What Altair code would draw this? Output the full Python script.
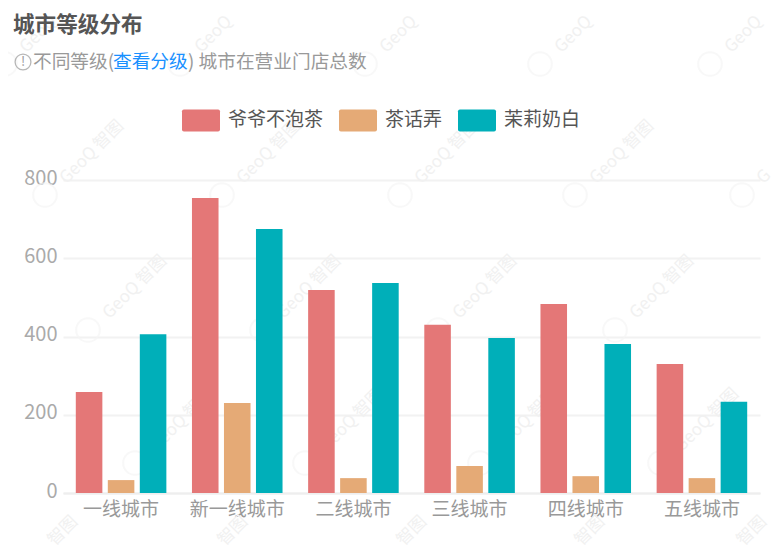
import altair as alt
import pandas as pd

FONT = "Noto Sans CJK SC"
cities = ["一线城市", "新一线城市", "二线城市", "三线城市", "四线城市", "五线城市"]
series = ["爷爷不泡茶", "茶话弄", "茉莉奶白"]
colors = ["#e47777", "#e5aa76", "#00afb9"]
yeye = [258, 754, 519, 430, 483, 330]
chahua = [33, 230, 38, 69, 43, 38]
moli = [406, 675, 537, 396, 381, 233]
yticks = [0, 200, 400, 600, 800]
# faint background stamp: page position of the ring and the part of the text that is visible
stamp_rows = [
    (64, "GeoQ", [5, 180, 365, 540, 710]),
    (195, "GeoQ 智图", [45, 222, 400, 575]),
    (330, "GeoQ 智图", [88, 262, 438, 615]),
    (463, "GeoQ 智图", [135, 305, 480, 660]),
]
stamp_edge = [(742, 195, "G")]
stamp_bottom_y = 531
stamp_bottom_x = [63, 233, 412, 590, 752]

rows = []
for name, vals in zip(series, [yeye, chahua, moli]):
    for c, v in zip(cities, vals):
        rows.append({"city": c, "brand": name, "value": v})
df = pd.DataFrame(rows)

bars = alt.Chart(df).mark_bar(stroke=None).encode(
    x=alt.X("city:N", sort=cities, title=None,
            scale=alt.Scale(paddingInner=0, paddingOuter=0),
            axis=alt.Axis(labelAngle=0, labelFont=FONT, labelFontSize=19, labelColor="#999999",
                          labelPadding=7, tickSize=0, domainColor="#eeeeee", domainWidth=2, grid=False)),
    xOffset=alt.XOffset("brand:N", sort=series,
                        scale=alt.Scale(paddingInner=0.17, paddingOuter=0.40)),
    y=alt.Y("value:Q", title=None, scale=alt.Scale(domain=[0, 800]),
            axis=alt.Axis(values=yticks, labelFont=FONT, labelFontSize=20, labelColor="#aaaaaa",
                          labelPadding=6, labelOffset=-2, tickSize=0, domain=False, grid=True,
                          gridColor="#f2f2f2", gridWidth=2)),
    color=alt.Color("brand:N", sort=series, title=None,
                    scale=alt.Scale(domain=series, range=colors),
                    legend=alt.Legend(orient="none", legendX=119, legendY=-79, direction="horizontal",
                                      columns=3, columnPadding=15, labelOffset=8,
                                      labelFont=FONT, labelFontSize=19, labelColor="#555555",
                                      symbolSize=1444, symbolStrokeWidth=0,
                                      symbolType="M-0.9,-0.58 H0.9 Q1,-0.58 1,-0.48 V0.48 Q1,0.58 0.9,0.58 H-0.9 Q-1,0.58 -1,0.48 V-0.48 Q-1,-0.58 -0.9,-0.58 Z")),
)

one = pd.DataFrame({"k": [0]})

def label(text, x, y, color, size, weight="normal"):
    return alt.Chart(one).mark_text(text=text, align="left", baseline="middle", font=FONT,
                                    fontSize=size, color=color, fontWeight=weight).encode(
        x=alt.value(x), y=alt.value(y))

def stamp_text(text, px, py):
    return alt.Chart(one).mark_text(text=text, align="left", baseline="middle", angle=315,
                                    font=FONT, fontSize=17, color="#f1f1f1").encode(
        x=alt.value(px), y=alt.value(py))

def stamp(page_x, page_y, text):
    px, py = page_x - 63, page_y - 180
    ring = alt.Chart(one).mark_point(shape="circle", size=560, filled=False,
                                     color="#f6f6f6", strokeWidth=2).encode(
        x=alt.value(px), y=alt.value(py))
    return [ring, stamp_text(text, px + 18, py - 14)]

stamps = []
for page_y, text, xs in stamp_rows:
    for page_x in xs:
        stamps += stamp(page_x, page_y, text)
for page_x, page_y, text in stamp_edge:
    stamps += stamp(page_x, page_y, text)
for page_x in stamp_bottom_x:
    stamps.append(stamp_text("智图", page_x - 63 - 12, stamp_bottom_y - 180 + 12))

title = label("城市等级分布", -50, -154, "#555555", 21.6, "bold")
sub1 = label("不同等级(", -30, -118, "#999999", 18.7)
sub2 = label("查看分级", 50, -118, "#1890ff", 18.7)
sub3 = label(") 城市在营业门店总数", 125, -118, "#999999", 18.7)
icon = alt.Chart(one).mark_point(shape="circle", size=250, filled=False, color="#999999", strokeWidth=1.3).encode(
    x=alt.value(-40), y=alt.value(-118))
bang = alt.Chart(one).mark_text(text="!", align="center", baseline="middle", font=FONT,
                                fontSize=13, color="#999999").encode(x=alt.value(-40), y=alt.value(-118))

chart = alt.layer(*stamps, bars, title, icon, bang, sub1, sub2, sub3).properties(
    width=697, height=313,
    autosize=alt.AutoSizeParams(type="none"),
    padding={"left": 55, "top": 172, "right": 14, "bottom": 60},
    background="white",
).configure_view(stroke=None)

chart.save("out.html", embed_options={"renderer": "svg", "actions": False})
